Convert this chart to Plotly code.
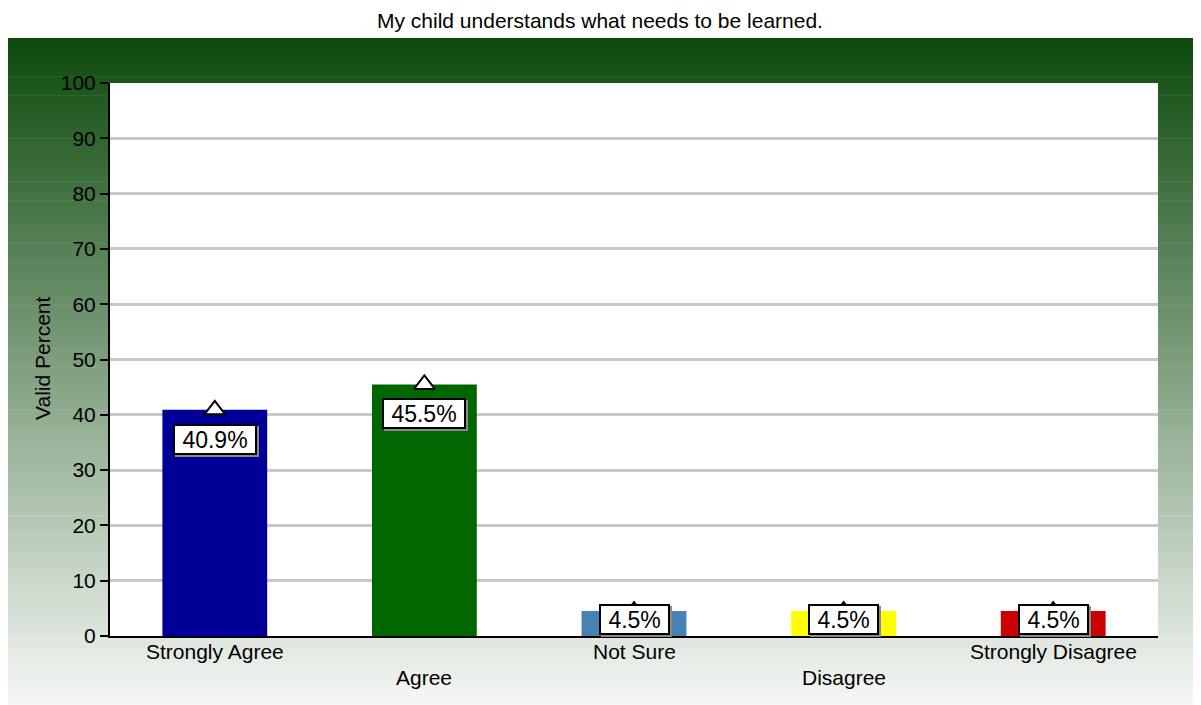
import plotly.graph_objects as go

categories = ["Strongly Agree", "Agree", "Not Sure", "Disagree", "Strongly Disagree"]
values = [40.9, 45.5, 4.5, 4.5, 4.5]
labels = ["40.9%", "45.5%", "4.5%", "4.5%", "4.5%"]
bar_colors = ["#000099", "#006600", "#4682B4", "#FFFF00", "#CC0000"]
y_ticks = list(range(0, 101, 10))
title_text = "My child understands what needs to be learned."
y_title = "Valid Percent"

# page offset (body margin) in the browser
OFF = 8
W, H = 1201 - OFF, 705 - OFF
# plot area in screen pixels
PX0, PX1, PY0, PY1 = 110, 1158, 83, 636
L, T = PX0 - OFF, PY0 - OFF
R, B = (W + OFF) - PX1, (H + OFF) - PY1
PW, PH = PX1 - PX0, PY1 - PY0
FONT = "Liberation Sans, Arial, Helvetica, sans-serif"
FS = 21


def px_x(px):
    return (px - PX0) / PW


def px_y(py):
    return (PY1 - py) / PH


fig = go.Figure()

fig.add_trace(go.Bar(
    x=categories, y=values, width=0.5,
    marker=dict(color=bar_colors, line=dict(width=0)),
    hoverinfo="skip", showlegend=False,
))
fig.add_trace(go.Scatter(
    x=categories, y=values, mode="markers",
    marker=dict(symbol="triangle-up", size=18, color="white",
                line=dict(color="black", width=2)),
    cliponaxis=False, hoverinfo="skip", showlegend=False,
))

# gradient background (styling)
shapes = []
top_px, bot_px = 38, 706
n = 140
c0 = (13, 74, 13)
c1 = (246, 248, 246)
for i in range(n):
    y0p = top_px + (bot_px - top_px) * i / n
    y1p = top_px + (bot_px - top_px) * (i + 1) / n + 0.6
    f = (i + 0.5) / n
    col = tuple(round(c0[k] + (c1[k] - c0[k]) * f) for k in range(3))
    shapes.append(dict(type="rect", xref="paper", yref="paper",
                       x0=px_x(6), x1=px_x(1205), y0=px_y(y1p), y1=px_y(y0p),
                       fillcolor="rgb(%d,%d,%d)" % col, line=dict(width=0),
                       layer="below"))
shapes.append(dict(type="rect", xref="paper", yref="paper", x0=0, x1=1, y0=0, y1=1,
                   fillcolor="white", line=dict(width=0), layer="below"))

annotations = []
annotations.append(dict(text=title_text, xref="paper", yref="paper",
                        x=px_x(600), y=px_y(20), showarrow=False,
                        xanchor="center", yanchor="middle",
                        font=dict(family=FONT, size=FS, color="black")))
annotations.append(dict(text=y_title, xref="paper", yref="paper",
                        x=px_x(42), y=px_y(358), showarrow=False, textangle=-90,
                        xanchor="center", yanchor="middle",
                        font=dict(family=FONT, size=FS, color="black")))
for i, c in enumerate(categories):
    annotations.append(dict(text=c, xref="x", yref="paper", x=c, y=0,
                            yshift=-15 if i % 2 == 0 else -41, showarrow=False,
                            xanchor="center", yanchor="middle",
                            font=dict(family=FONT, size=FS, color="black")))

ppu = PH / 100.0
box_h = 32
for c, v, lab in zip(categories, values, labels):
    if v * ppu - 14 - box_h >= 0:
        pos = dict(y=v, yanchor="top", yshift=-14)
    else:
        pos = dict(y=0, yanchor="bottom", yshift=1)
    txt = "\u00a0" + lab + "\u00a0"
    # shadow
    annotations.append(dict(text=txt, xref="x", yref="y", x=c, showarrow=False,
                            xanchor="center", xshift=2,
                            y=pos["y"], yanchor=pos["yanchor"], yshift=pos["yshift"] - 2,
                            bgcolor="#8a8a8a", bordercolor="#8a8a8a", borderwidth=2,
                            borderpad=1, height=25,
                            font=dict(family=FONT, size=23, color="#8a8a8a")))
    annotations.append(dict(text=txt, xref="x", yref="y", x=c, showarrow=False,
                            xanchor="center", **pos,
                            bgcolor="white", bordercolor="black", borderwidth=2,
                            borderpad=1, height=25,
                            font=dict(family=FONT, size=23, color="black")))

fig.update_layout(
    width=W, height=H,
    margin=dict(l=L, r=R, t=T, b=B, pad=0),
    paper_bgcolor="white", plot_bgcolor="white",
    shapes=shapes, annotations=annotations,
    bargap=0.5, showlegend=False,
    font=dict(family=FONT, size=FS, color="black"),
    xaxis=dict(type="category", range=[-0.5, 4.5], showticklabels=False,
               showgrid=False, zeroline=False, showline=True,
               linecolor="black", linewidth=2, ticks=""),
    yaxis=dict(range=[0, 100], tickvals=y_ticks, ticks="outside", ticklen=8,
               tickwidth=1.5, tickcolor="black", showgrid=True,
               gridcolor="#c8c8c8", gridwidth=3, zeroline=False,
               showline=True, linecolor="black", linewidth=2,
               tickfont=dict(family=FONT, size=FS, color="black")),
)

fig.write_html("out.html")
